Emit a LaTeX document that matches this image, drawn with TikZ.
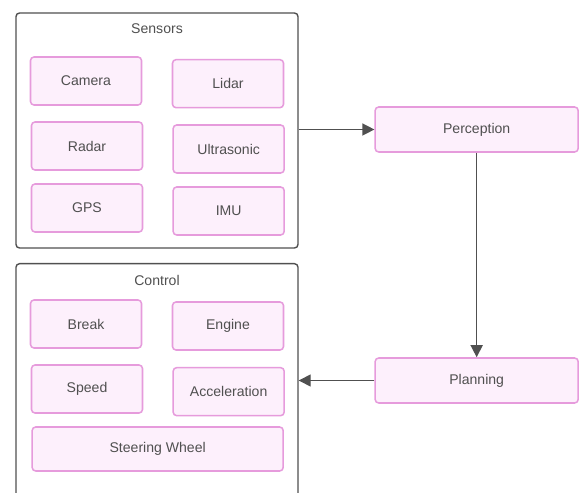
\documentclass[tikz,border=0pt]{standalone}
\usepackage{fontspec}
\setmainfont{Liberation Sans}
\usetikzlibrary{arrows.meta, positioning}
\definecolor{framegray}{RGB}{80,80,80}
\definecolor{textgray}{RGB}{80,80,80}
\definecolor{unitpink}{RGB}{230,155,220}
\definecolor{unitfill}{RGB}{253,240,252}

\begin{document}
\begin{tikzpicture}[
    group/.style={rectangle, draw=framegray, line width=1.2pt,
                  rounded corners=3pt, fill=white, inner sep=0pt},
    unit/.style={rectangle, draw=unitpink, line width=1.3pt,
                 rounded corners=3pt, fill=unitfill,
                 minimum width=3.33cm, minimum height=1.44cm,
                 align=center, inner sep=1pt,
                 font=\fontsize{12}{14}\selectfont, text=textgray},
    stage/.style={unit, minimum width=6.09cm, minimum height=1.35cm},
    title/.style={font=\fontsize{12}{14}\selectfont, text=textgray, inner sep=1pt},
    flow/.style={-{Triangle[length=0.36cm,width=0.36cm]}, line width=1.2pt,
                 color=framegray},
]
\useasboundingbox (0,0) rectangle (17.37,-14.79);
\clip (0,0) rectangle (17.37,-14.79);

%---------------------------------------------------------------
% LEFT TOP: sensor group
%---------------------------------------------------------------
\node[group, minimum width=8.46cm, minimum height=7.05cm] (sensors)
     at (4.71, -3.915) {};
\node[title] (sensorstitle) at (4.71, -0.87) {Sensors};

\node[unit] (camera) at (2.58, -2.43) {Camera};
\node[unit] (lidar)  at (6.84, -2.51) {Lidar};
\node[unit] (radar)  at (2.61, -4.38) {Radar};
\node[unit] (ultra)  at (6.86, -4.47) {Ultrasonic};
\node[unit] (gps)    at (2.61, -6.24) {GPS};
\node[unit] (imu)    at (6.86, -6.33) {IMU};

%---------------------------------------------------------------
% LEFT BOTTOM: control group (runs off the lower edge)
%---------------------------------------------------------------
\node[group, minimum width=8.46cm, minimum height=7.6cm, anchor=north]
     (control) at (4.71, -7.89) {};
\node[title] (controltitle) at (4.71, -8.40) {Control};

\node[unit] (brk)    at (2.58, -9.72)  {Break};
\node[unit] (engine) at (6.84, -9.78)  {Engine};
\node[unit] (speed)  at (2.61, -11.67) {Speed};
\node[unit] (accel)  at (6.86, -11.75) {Acceleration};
\node[unit, minimum width=7.53cm, minimum height=1.32cm] (steer)
     at (4.73, -13.47) {Steering Wheel};

%---------------------------------------------------------------
% RIGHT: processing stages
%---------------------------------------------------------------
\node[stage] (perception) at (14.30, -3.885) {Perception};
\node[stage] (planning)   at (14.30, -11.415) {Planning};

\draw[flow] (sensors.east |- perception.west) -- (perception.west);
\draw[flow] (perception.south) -- (planning.north);
\draw[flow] (planning.west) -- (control.east |- planning.west);

\end{tikzpicture}
\end{document}
